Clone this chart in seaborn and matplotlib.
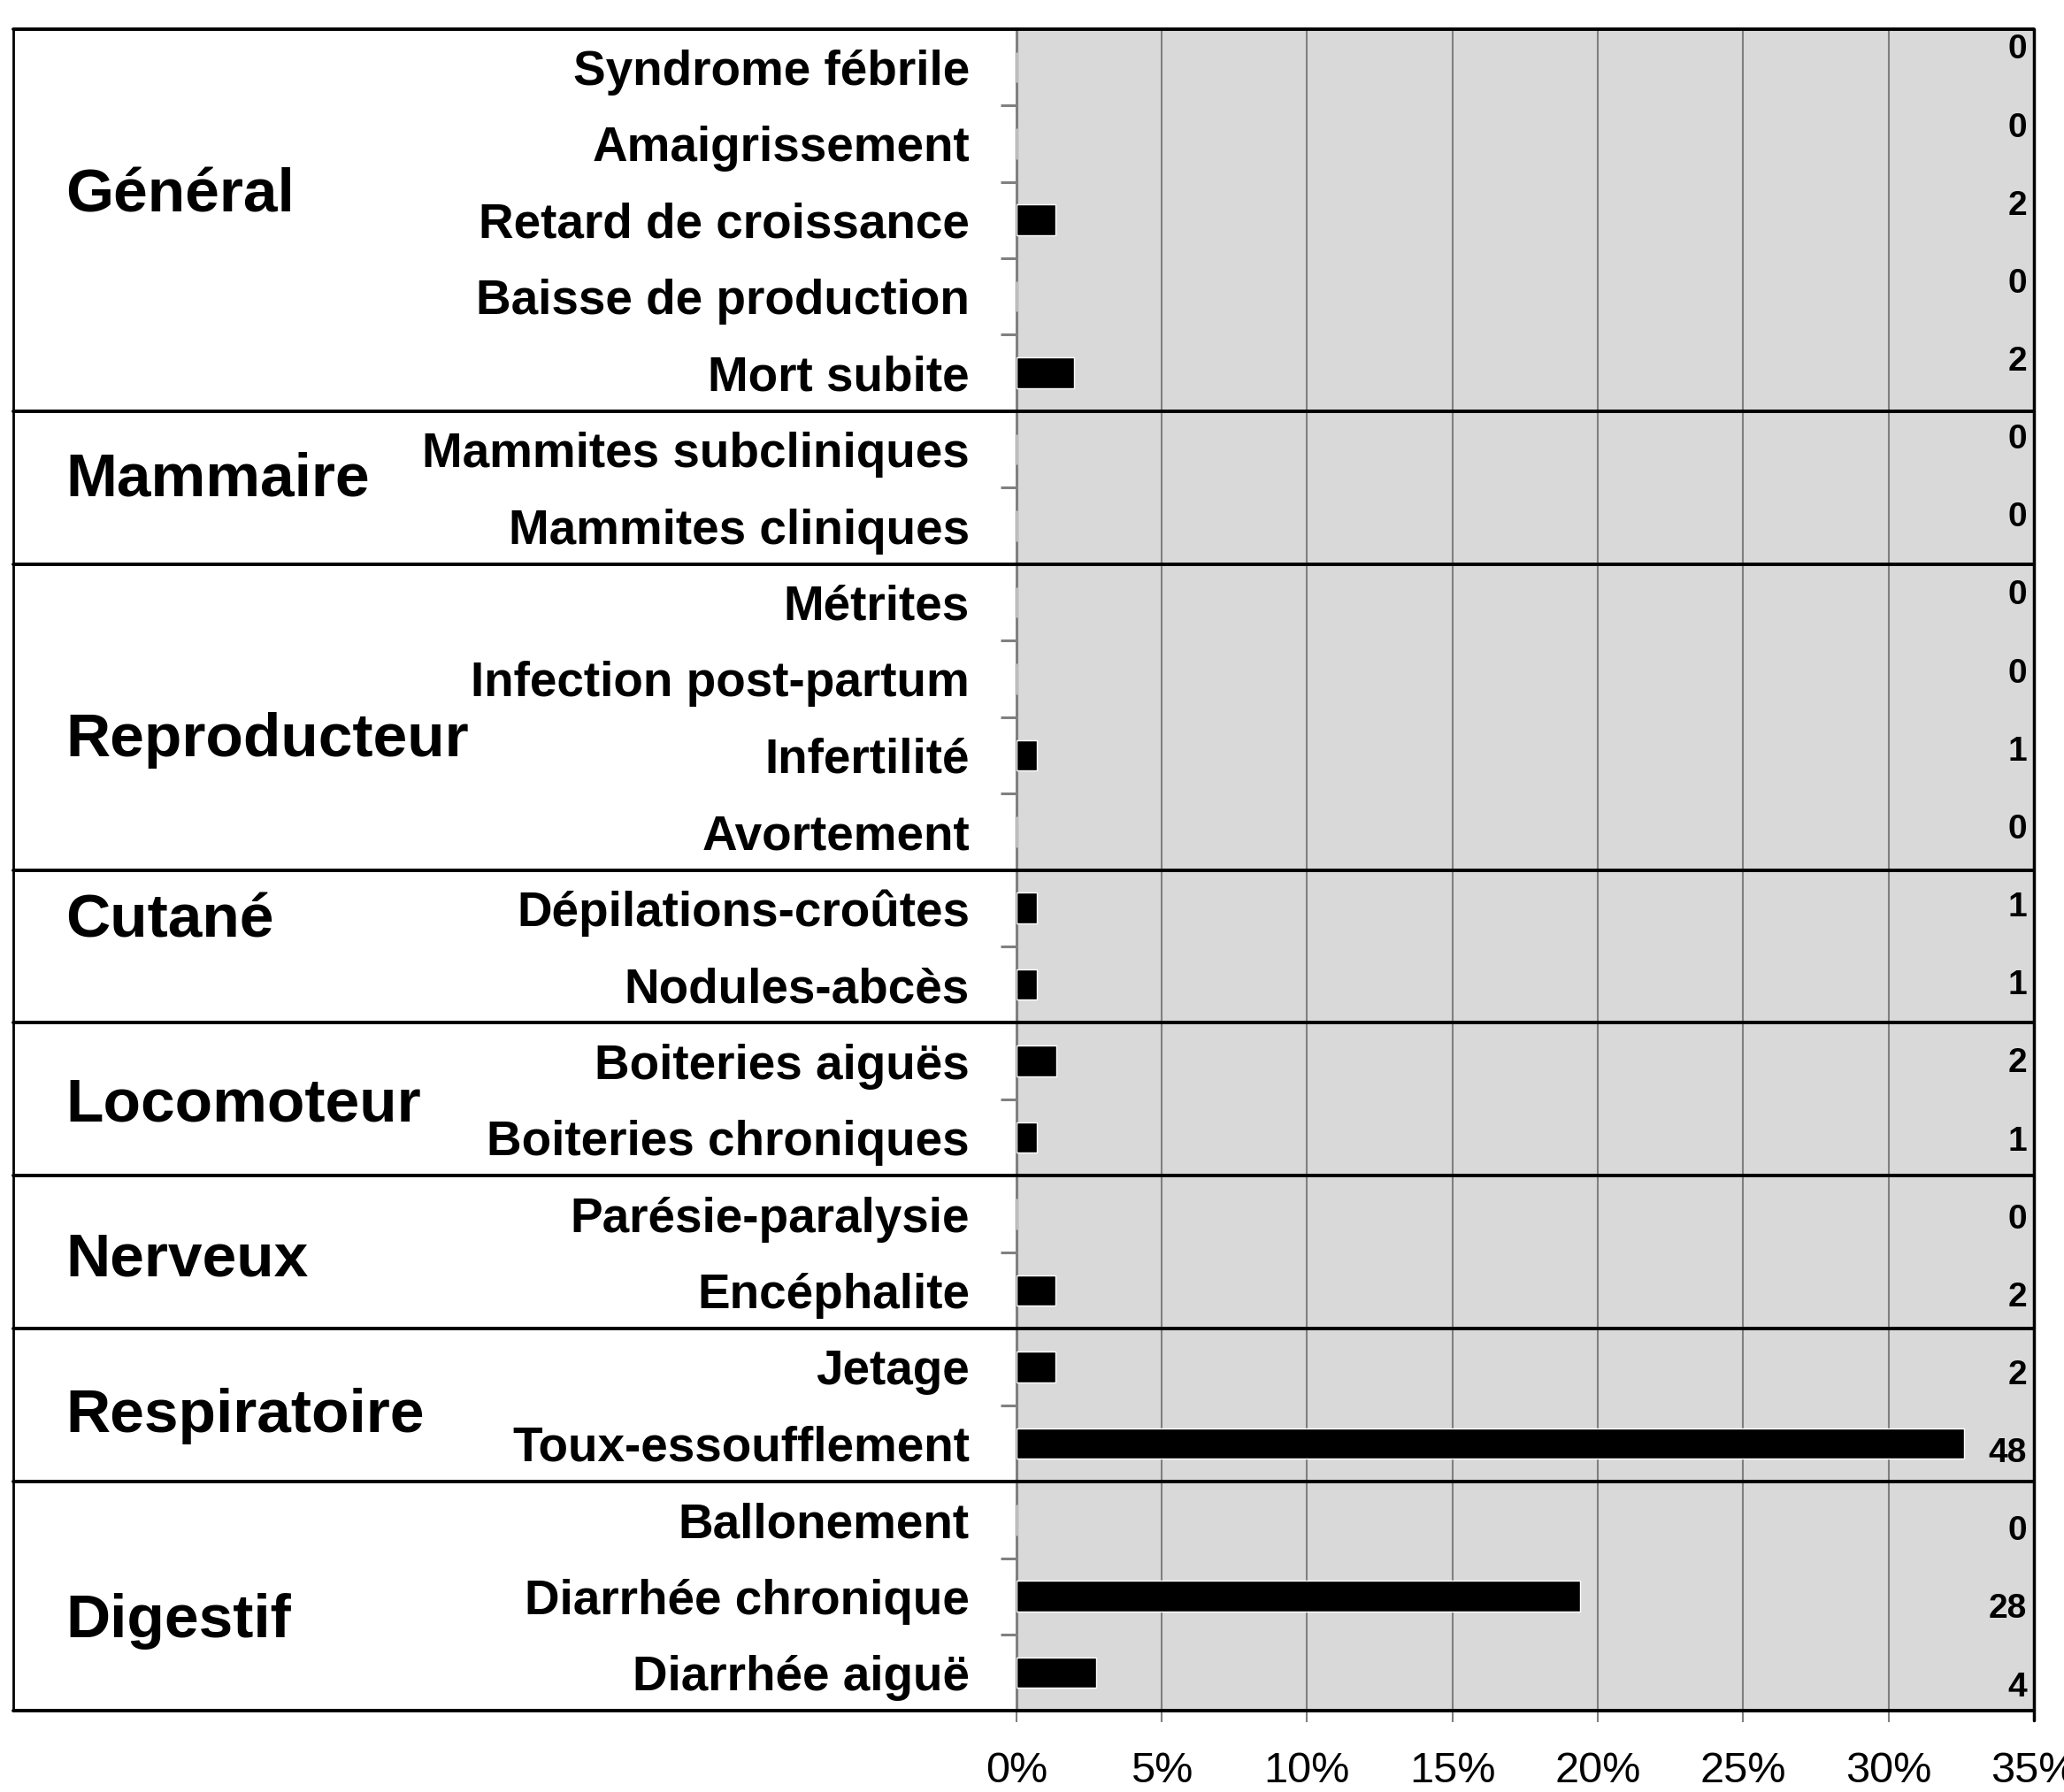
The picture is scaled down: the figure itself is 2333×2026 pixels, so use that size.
import matplotlib
matplotlib.use("Agg")
import matplotlib.pyplot as plt
import seaborn as sns
import pandas as pd
import numpy as np

# Données
groupes = ["Général", "Mammaire", "Reproducteur", "Cutané", "Locomoteur",
           "Nerveux", "Respiratoire", "Digestif"]
taille_groupes = [5, 2, 4, 2, 2, 2, 2, 3]
signes = ["Syndrome fébrile", "Amaigrissement", "Retard de croissance",
          "Baisse de production", "Mort subite",
          "Mammites subcliniques", "Mammites cliniques",
          "Métrites", "Infection post-partum", "Infertilité", "Avortement",
          "Dépilations-croûtes", "Nodules-abcès",
          "Boiteries aiguës", "Boiteries chroniques",
          "Parésie-paralysie", "Encéphalite",
          "Jetage", "Toux-essoufflement",
          "Ballonement", "Diarrhée chronique", "Diarrhée aiguë"]
pourcentages = [0, 0, 1.35, 0, 2.0,
                0, 0,
                0, 0, 0.7, 0,
                0.7, 0.7,
                1.37, 0.7,
                0, 1.35,
                1.35, 32.6,
                0, 19.4, 2.75]
effectifs = [0, 0, 2, 0, 2,
             0, 0,
             0, 0, 1, 0,
             1, 1,
             2, 1,
             0, 2,
             2, 48,
             0, 28, 4]
ticks_x = [0, 5, 10, 15, 20, 25, 30, 35]

# Mise en page
decalage_groupes = [-0.32, -0.1, 0.3, -0.33, 0.08, 0.1, 0.14, 0.33]
x_bord = -0.9856
x_groupe = -0.934

sns.set_style("white")
plt.rcParams["font.family"] = ["Liberation Sans", "DejaVu Sans"]
plt.rcParams["text.color"] = "black"
plt.rcParams["xtick.color"] = "#808080"
plt.rcParams["ytick.color"] = "#808080"
plt.rcParams["xtick.labelcolor"] = "black"
plt.rcParams["ytick.labelcolor"] = "black"

df = pd.DataFrame({"signe": signes, "pct": pourcentages})

fig = plt.figure(figsize=(23.33, 20.26), dpi=100)
ax = fig.add_axes([0.4924, 0.0452, 0.4930, 0.9387])
ax.set_facecolor("#d9d9d9")

sns.barplot(data=df, y="signe", x="pct", orient="h", color="black",
            width=0.4, saturation=1, ax=ax, zorder=3)

ax.set_xlim(0, 35)
ax.set_ylim(len(signes) - 0.5, -0.5)
ax.set_xlabel("")
ax.set_ylabel("")

# grille verticale
ax.set_xticks(ticks_x)
ax.set_xticklabels([f"{t}%" for t in ticks_x], fontsize=35)
ax.xaxis.grid(True, color="#808080", linewidth=1.5, zorder=1)
ax.set_axisbelow(True)
ax.tick_params(axis="x", bottom=True, length=9, width=1.5,
               color="#808080", pad=24)

# étiquettes des signes
ax.set_yticks(range(len(signes)))
ax.set_yticklabels(signes, fontsize=39.5, fontweight="bold")
ax.tick_params(axis="y", which="major", left=True, length=0, pad=38)
ax.set_yticks(np.arange(0.5, len(signes) - 0.5), minor=True)
ax.tick_params(axis="y", which="minor", left=True, length=13, width=2.2,
               color="#808080")

for s in ["top", "right"]:
    ax.spines[s].set_visible(False)
for s in ["left", "bottom"]:
    ax.spines[s].set_color("#808080")
    ax.spines[s].set_linewidth(2.2)

# effectifs à droite
ytr = ax.get_yaxis_transform()
n = len(effectifs)
for i, v in enumerate(effectifs):
    y = -0.225 + i * 21.415 / (n - 1)
    ax.text(0.993, y, str(v), transform=ytr, ha="right", va="center",
            fontsize=28, fontweight="bold", color="black", zorder=5)

# séparateurs de groupes et cadre
bornes = np.concatenate([[0], np.cumsum(taille_groupes)]) - 0.5
for b in bornes:
    ax.plot([x_bord, 1.0], [b, b], transform=ytr, color="black",
            linewidth=2.8, clip_on=False, zorder=6)
ax.plot([x_bord, x_bord], [bornes[0], bornes[-1]], transform=ytr,
        color="black", linewidth=2.0, clip_on=False, zorder=6)
ax.plot([1.0, 1.0], [bornes[0], bornes[-1] + 0.12], transform=ytr,
        color="black", linewidth=2.5, clip_on=False, zorder=6)

# noms des groupes
for g, a, b, d in zip(groupes, bornes[:-1], bornes[1:], decalage_groupes):
    ax.text(x_groupe, (a + b) / 2 + d, g, transform=ytr, ha="left",
            va="center", fontsize=50, fontweight="bold", color="black",
            clip_on=False)

fig.savefig("out.png", dpi=100)
